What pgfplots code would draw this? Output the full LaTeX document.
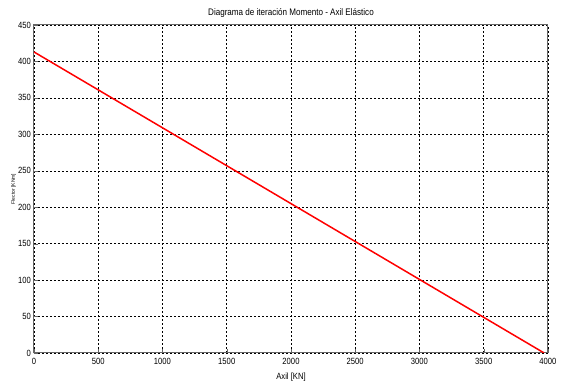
\documentclass[border=0pt]{standalone}
\usepackage{pgfplots}
\pgfplotsset{compat=1.18}
\usepackage{fontspec}
\setmainfont{Liberation Sans}
\begin{document}
\begin{tikzpicture}
\path[use as bounding box] (-34pt,-34pt) rectangle (529pt,353pt);
\begin{axis}[
  scale only axis,
  width=514pt, height=328pt,
  xmin=0, xmax=4000, ymin=0, ymax=450,
  xtick={0,500,...,4000}, ytick={0,50,...,450},
  xtick pos=bottom, ytick pos=left,
  grid=major,
  major grid style={black, dash pattern=on 2pt off 2pt, line width=0.5pt},
  axis line style={gray!80!black, line width=1pt},
  tick style={gray!80!black},
  tick align=inside,
  tick label style={font=\fontsize{9}{10}\selectfont, xscale=0.85},
  xticklabel style={yshift=-2pt},
  /pgf/number format/assume math mode=true,
  /pgf/number format/set thousands separator={},
  title={Diagrama de iteración Momento - Axil Elástico},
  title style={font=\fontsize{9.5}{10}\selectfont, xscale=0.85, yshift=-2pt},
  xlabel={Axil [KN]},
  xlabel style={font=\fontsize{9}{10}\selectfont, xscale=0.85, yshift=-1pt},
  ylabel={Flector [KNm]},
  ylabel style={font=\fontsize{5}{6}\selectfont, yshift=-4pt},
]
\addplot[red, line width=1.5pt] coordinates {(0,413) (3970,0)};
\end{axis}
\end{tikzpicture}
\end{document}
